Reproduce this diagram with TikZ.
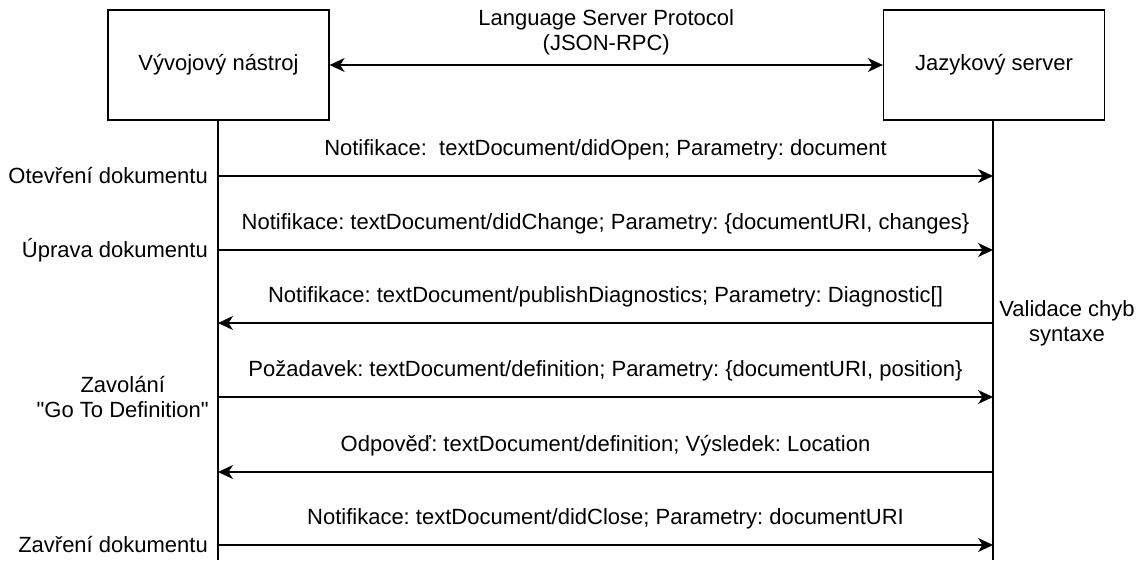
\documentclass[tikz,border=0pt]{standalone}
\usepackage{fontspec}
\setmainfont{Liberation Sans}[Ligatures=TeXOff]
\usetikzlibrary{arrows.meta}
\frenchspacing
\begin{document}
\begin{tikzpicture}[x=1pt,y=-1pt,
  every node/.style={font=\fontsize{22}{25}\selectfont, inner sep=0pt},
  actor/.style={draw, line width=1.3pt, minimum width=221pt, minimum height=110pt},
  line/.style={line width=1.3pt},
  msg/.style={line width=1.3pt, -{Stealth[length=15pt,width=14pt,inset=4.5pt]}},
  dmsg/.style={line width=1.3pt, {Stealth[length=15pt,width=14pt,inset=4.5pt]}-{Stealth[length=15pt,width=14pt,inset=4.5pt]}},
  lbl/.style={midway, yshift=26pt},
  side/.style={anchor=east, xshift=-10pt}
]
\useasboundingbox (0,0) rectangle (1144,560);
\node[actor] (tool) at (218.5,65) {Vývojový nástroj};
\node[actor] (srv) at (994,65) {Jazykový server};
\draw[dmsg] (tool.east) -- (srv.west) node[midway, yshift=33pt, align=center] {Language Server Protocol\\(JSON-RPC)};
\coordinate (Lend) at (218,560);
\coordinate (Rend) at (993,560);
\draw[line] (tool.south -| Lend) -- (Lend);
\draw[line] (srv.south -| Rend) -- (Rend);
% arrows
\coordinate (L1) at (218,176); \coordinate (R1) at (993,176);
\coordinate (L2) at (218,250); \coordinate (R2) at (993,250);
\coordinate (L3) at (218,323); \coordinate (R3) at (993,323);
\coordinate (L4) at (218,397); \coordinate (R4) at (993,397);
\coordinate (L5) at (218,472); \coordinate (R5) at (993,472);
\coordinate (L6) at (218,545); \coordinate (R6) at (993,545);
\draw[msg] (L1) -- (R1) node[lbl] {Notifikace:\ \ textDocument/didOpen; Parametry: document};
\draw[msg] (L2) -- (R2) node[lbl] {Notifikace: textDocument/didChange; Parametry: \{documentURI, changes\}};
\draw[msg] (R3) -- (L3) node[lbl] {Notifikace: textDocument/publishDiagnostics; Parametry: Diagnostic[]};
\draw[msg] (L4) -- (R4) node[lbl] {Požadavek: textDocument/definition; Parametry: \{documentURI, position\}};
\draw[msg] (R5) -- (L5) node[lbl] {Odpověď: textDocument/definition; Výsledek: Location};
\draw[msg] (L6) -- (R6) node[lbl] {Notifikace: textDocument/didClose; Parametry: documentURI};
% side labels
\node[side] (o1) at (L1) {Otevření dokumentu};
\node[side] (o2) at (L2) {Úprava dokumentu};
\node[anchor=east, align=center] (o4) at (209,397) {Zavolání\\"Go To Definition"};
\node[side] (o6) at (L6) {Zavření dokumentu};
\node[align=center] (val) at (1067,323) {Validace chyb\\syntaxe};
\end{tikzpicture}
\end{document}
